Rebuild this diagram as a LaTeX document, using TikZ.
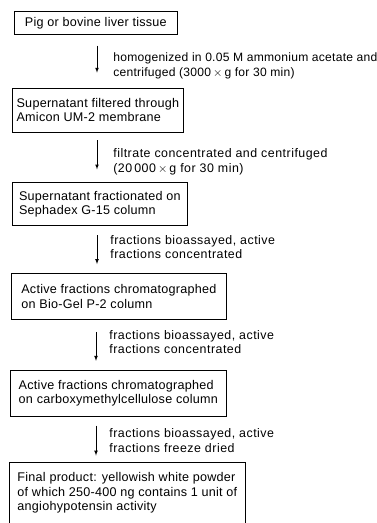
\documentclass[tikz,border=0pt]{standalone}
\usepackage{fontspec}
\setmainfont{Liberation Sans}
\newfontfamily\boxsans[LetterSpace=2]{Liberation Sans}
\newfontfamily\widesans[LetterSpace=4]{Liberation Sans}
\usetikzlibrary{positioning,arrows}

\begin{document}
\begin{tikzpicture}[x=1pt, y=-1pt, line width=0.7pt,
  stage/.style = {draw, align=left, inner xsep=4pt, inner ysep=2pt, font=\boxsans\fontsize{12.6}{14.8}\selectfont},
  note/.style = {align=left, inner sep=0pt, font=\widesans\fontsize{12.4}{14.5}\selectfont},
  flow/.style = {-latex, shorten <=9pt, shorten >=9pt}]
\useasboundingbox (0,0) rectangle (377,523);
\coordinate (ax) at (97,0);

\node[stage, anchor=north west, align=center, minimum width=163pt, minimum height=23pt] (tissue) at (14,11) {Pig or bovine liver tissue};
\node[stage, below=53pt of tissue.south west, anchor=north west, xshift=-2pt, minimum width=171pt, minimum height=44pt] (filter) {Supernatant filtered through\\Amicon UM-2 membrane};
\node[stage, below=50pt of filter.south west, anchor=north west, minimum width=175pt, minimum height=43pt] (sephadex) {Supernatant fractionated on\\Sephadex G-15 column};
\node[stage, below=47pt of sephadex.south west, anchor=north west, xshift=-1pt, minimum width=215pt, minimum height=46pt] (biogel) {Active fractions chromatographed\\on Bio-Gel P-2 column};
\node[stage, below=50pt of biogel.south west, anchor=north west, xshift=-1pt, minimum width=216pt, minimum height=46pt] (cmcell) {Active fractions chromatographed\\on carboxymethylcellulose column};
\node[stage, below=45pt of cmcell.south west, anchor=north west, xshift=-1pt, minimum width=236pt, minimum height=62pt] (product) {Final product: yellowish white powder\\of which 250-400 ng contains 1 unit of\\angiohypotensin activity};

\draw[flow, shorten <=11pt, shorten >=15pt] (tissue.south -| ax) -- (filter.north -| ax)
  node[note, midway, right=16pt, yshift=-4.5pt, font=\boxsans\fontsize{12.1}{15.5}\selectfont] (homog) {homogenized in 0.05 M ammonium acetate and\\centrifuged (3000\,$\times$\,g for 30 min)};
\draw[flow, shorten <=8pt, shorten >=13pt] (filter.south -| ax) -- (sephadex.north -| ax)
  node[note, midway, right=16pt, yshift=-4.5pt] (concen) {filtrate concentrated and centrifuged\\(20\,000\,$\times$\,g for 30 min)};
\draw[flow] (sephadex.south -| ax) -- (biogel.north -| ax)
  node[note, midway, right=13pt, yshift=2.5pt] (assay1) {fractions bioassayed, active\\fractions concentrated};
\draw[flow, shorten <=12pt] ([xshift=-1pt]biogel.south -| ax) -- ([xshift=-1pt]cmcell.north -| ax)
  node[note, midway, right=13pt, yshift=2.5pt] (assay2) {fractions bioassayed, active\\fractions concentrated};
\draw[flow, shorten >=6pt] ([xshift=-1pt]cmcell.south -| ax) -- ([xshift=-1pt]product.north -| ax)
  node[note, midway, right=13pt, yshift=-1.5pt] (assay3) {fractions bioassayed, active\\fractions freeze dried};
\end{tikzpicture}
\end{document}
